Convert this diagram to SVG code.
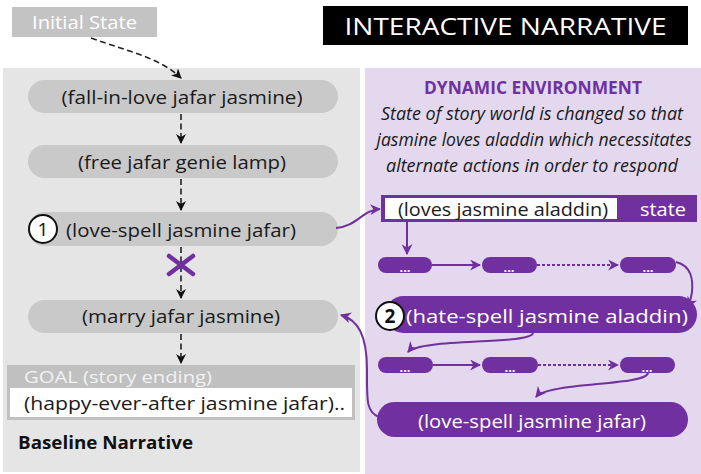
<svg xmlns="http://www.w3.org/2000/svg" width="701" height="474" viewBox="0 0 701 474">
  <style>
    .sans { font-family: "Open Sans", "Noto Sans", "Liberation Sans", sans-serif; }
    .lbl { font-size: 19px; fill: #1a1a1a; }
    .wlbl { font-size: 19px; fill: #ffffff; }
    .gpill { fill: #c9c9c9; }
    .ppill { fill: #7030a0; }
    .dots { font-size: 13px; fill: #ffffff; font-weight: bold; }
    .dash { stroke: #222; stroke-width: 1.6; fill: none; stroke-dasharray: 6 3.5; }
    .pline { stroke: #7030a0; stroke-width: 2; fill: none; }
    .pdot { stroke: #7030a0; stroke-width: 2; fill: none; stroke-dasharray: 3 2; }
    .num { fill: #fff; stroke: #111; stroke-width: 2; }
  </style>
  <defs>
    <marker id="blk" viewBox="0 0 10 10" refX="9" refY="5" markerWidth="10" markerHeight="10" orient="auto" markerUnits="userSpaceOnUse">
      <path d="M0,0 L10,5 L0,10 L3,5 z" fill="#111"/>
    </marker>
    <marker id="pur" viewBox="0 0 10 10" refX="9" refY="5" markerWidth="11" markerHeight="11" orient="auto" markerUnits="userSpaceOnUse">
      <path d="M0,0 L10,5 L0,10 L3,5 z" fill="#7030a0"/>
    </marker>
  </defs>

  <rect width="701" height="474" fill="#ffffff"/>

  <!-- panels -->
  <rect id="baseline-panel" x="3" y="68" width="357" height="404" fill="#e5e5e5"/>
  <rect id="dynamic-panel" x="365" y="68" width="336" height="406" fill="#e3d8ee"/>

  <!-- header blocks -->
  <g id="initial-state">
    <rect x="12" y="7" width="145" height="30" fill="#c3c3c3"/>
    <text x="32" y="29" class="sans" font-size="18" fill="#ffffff" textLength="105" lengthAdjust="spacingAndGlyphs">Initial State</text>
  </g>
  <g id="title">
    <rect x="323" y="6" width="365" height="39" fill="#000000"/>
    <text x="505.5" y="35" class="sans" font-size="24" fill="#ffffff" text-anchor="middle" textLength="322" lengthAdjust="spacingAndGlyphs">INTERACTIVE NARRATIVE</text>
  </g>

  <!-- baseline narrative nodes -->
  <g id="n-fall-in-love">
    <rect class="gpill" x="28" y="80" width="310" height="33" rx="16.5"/>
    <text x="182" y="104" class="sans lbl" text-anchor="middle" textLength="241" lengthAdjust="spacingAndGlyphs">(fall-in-love jafar jasmine)</text>
  </g>
  <g id="n-free">
    <rect class="gpill" x="28" y="145" width="310" height="33" rx="16.5"/>
    <text x="182" y="169" class="sans lbl" text-anchor="middle" textLength="208" lengthAdjust="spacingAndGlyphs">(free jafar genie lamp)</text>
  </g>
  <g id="n-love-spell">
    <rect class="gpill" x="28" y="212" width="310" height="34" rx="17"/>
    <circle class="num" cx="43" cy="229" r="14"/>
    <text x="43" y="236" class="sans" font-size="19" fill="#111" text-anchor="middle">1</text>
    <text x="66" y="237" class="sans lbl" textLength="230" lengthAdjust="spacingAndGlyphs">(love-spell jasmine jafar)</text>
  </g>
  <g id="n-marry">
    <rect class="gpill" x="28" y="300" width="310" height="33" rx="16.5"/>
    <text x="181" y="323" class="sans lbl" text-anchor="middle" textLength="198" lengthAdjust="spacingAndGlyphs">(marry jafar jasmine)</text>
  </g>
  <g id="goal">
    <rect x="7" y="365" width="348" height="55" fill="#c0c0c0"/>
    <rect x="10" y="388" width="342" height="29" fill="#ffffff"/>
    <text x="24" y="383" class="sans" font-size="17" fill="#f2f2f2" textLength="188" lengthAdjust="spacingAndGlyphs">GOAL (story ending)</text>
    <text x="24" y="410" class="sans lbl" textLength="321" lengthAdjust="spacingAndGlyphs">(happy-ever-after jasmine jafar)..</text>
  </g>
  <text id="baseline-caption" x="18" y="449" class="sans" font-size="17" font-weight="bold" fill="#111" textLength="175" lengthAdjust="spacingAndGlyphs">Baseline Narrative</text>

  <!-- dynamic environment caption -->
  <g id="dyn-caption" class="sans" text-anchor="middle">
    <text x="533" y="94" font-size="17" font-weight="bold" fill="#7030a0" textLength="218" lengthAdjust="spacingAndGlyphs">DYNAMIC ENVIRONMENT</text>
    <text x="532" y="120" font-size="18" font-style="italic" fill="#1a1a1a" textLength="302" lengthAdjust="spacingAndGlyphs">State of story world is changed so that</text>
    <text x="534" y="146" font-size="18" font-style="italic" fill="#1a1a1a" textLength="315" lengthAdjust="spacingAndGlyphs">jasmine loves aladdin which necessitates</text>
    <text x="532" y="172" font-size="18" font-style="italic" fill="#1a1a1a" textLength="292" lengthAdjust="spacingAndGlyphs">alternate actions in order to respond</text>
  </g>

  <!-- dynamic environment nodes -->
  <g id="n-state">
    <rect x="381" y="195" width="316" height="27" fill="#7030a0"/>
    <rect x="385" y="198" width="232" height="21" fill="#ffffff"/>
    <text x="398" y="216" class="sans lbl" textLength="210" lengthAdjust="spacingAndGlyphs">(loves jasmine aladdin)</text>
    <text x="640" y="216" class="sans wlbl" textLength="46" lengthAdjust="spacingAndGlyphs">state</text>
  </g>
  <g id="r1-a"><rect class="ppill" x="378" y="257" width="54" height="16" rx="8"/><text x="405" y="272" class="sans dots" text-anchor="middle">...</text></g>
  <g id="r1-b"><rect class="ppill" x="482" y="257" width="55" height="16" rx="8"/><text x="509" y="272" class="sans dots" text-anchor="middle">...</text></g>
  <g id="r1-c"><rect class="ppill" x="620" y="257" width="56" height="16" rx="8"/><text x="648" y="272" class="sans dots" text-anchor="middle">...</text></g>
  <g id="n-hate-spell">
    <rect class="ppill" x="385" y="296" width="312" height="37" rx="18.5"/>
    <circle class="num" cx="390" cy="316" r="14"/>
    <text x="390" y="323" class="sans" font-size="19" font-weight="bold" fill="#111" text-anchor="middle">2</text>
    <text x="406" y="323" class="sans wlbl" font-size="20" textLength="282" lengthAdjust="spacingAndGlyphs">(hate-spell jasmine aladdin)</text>
  </g>
  <g id="r2-a"><rect class="ppill" x="378" y="357" width="55" height="16" rx="8"/><text x="405" y="372" class="sans dots" text-anchor="middle">...</text></g>
  <g id="r2-b"><rect class="ppill" x="482" y="357" width="56" height="16" rx="8"/><text x="510" y="372" class="sans dots" text-anchor="middle">...</text></g>
  <g id="r2-c"><rect class="ppill" x="620" y="357" width="55" height="16" rx="8"/><text x="647" y="372" class="sans dots" text-anchor="middle">...</text></g>
  <g id="n-love-spell-2">
    <rect class="ppill" x="377" y="402" width="311" height="35" rx="17.5"/>
    <text x="532" y="428" class="sans wlbl" font-size="20" text-anchor="middle" textLength="228" lengthAdjust="spacingAndGlyphs">(love-spell jasmine jafar)</text>
  </g>

  <!-- connectors -->
  <g id="connectors">
    <path class="dash" d="M91,38 C130,52 160,58 181,78" marker-end="url(#blk)"/>
    <path class="dash" d="M181,114 L181,143" marker-end="url(#blk)"/>
    <path class="dash" d="M181,179 L181,210" marker-end="url(#blk)"/>
    <path class="dash" d="M181,247 L181,298" marker-end="url(#blk)"/>
    <path class="dash" d="M181,334 L181,363" marker-end="url(#blk)"/>
    <path d="M169,256 L193,274 M193,256 L169,274" stroke="#7030a0" stroke-width="4.5" stroke-linecap="round"/>

    <path class="pline" d="M336,228 C358,226 362,210 380,209" marker-end="url(#pur)"/>
    <path class="pline" d="M407,222 L407,254" marker-end="url(#pur)"/>
    <path class="pline" d="M432,265 L480,265" marker-end="url(#pur)"/>
    <path class="pdot" d="M537,265 L618,265" marker-end="url(#pur)"/>
    <path class="pline" d="M676,262 C692,266 693,280 692,292 C691,298 690,303 688,307" marker-end="url(#pur)"/>
    <path class="pline" d="M533,333 C531,345 420,338 408,352" marker-end="url(#pur)"/>
    <path class="pline" d="M433,365 L480,365" marker-end="url(#pur)"/>
    <path class="pdot" d="M538,365 L618,365" marker-end="url(#pur)"/>
    <path class="pline" d="M648,373 C646,386 548,382 536,397" marker-end="url(#pur)"/>
    <path class="pline" d="M379,417 C366,412 367,400 367,370 C367,335 358,320 341,315" marker-end="url(#pur)"/>
  </g>
</svg>
